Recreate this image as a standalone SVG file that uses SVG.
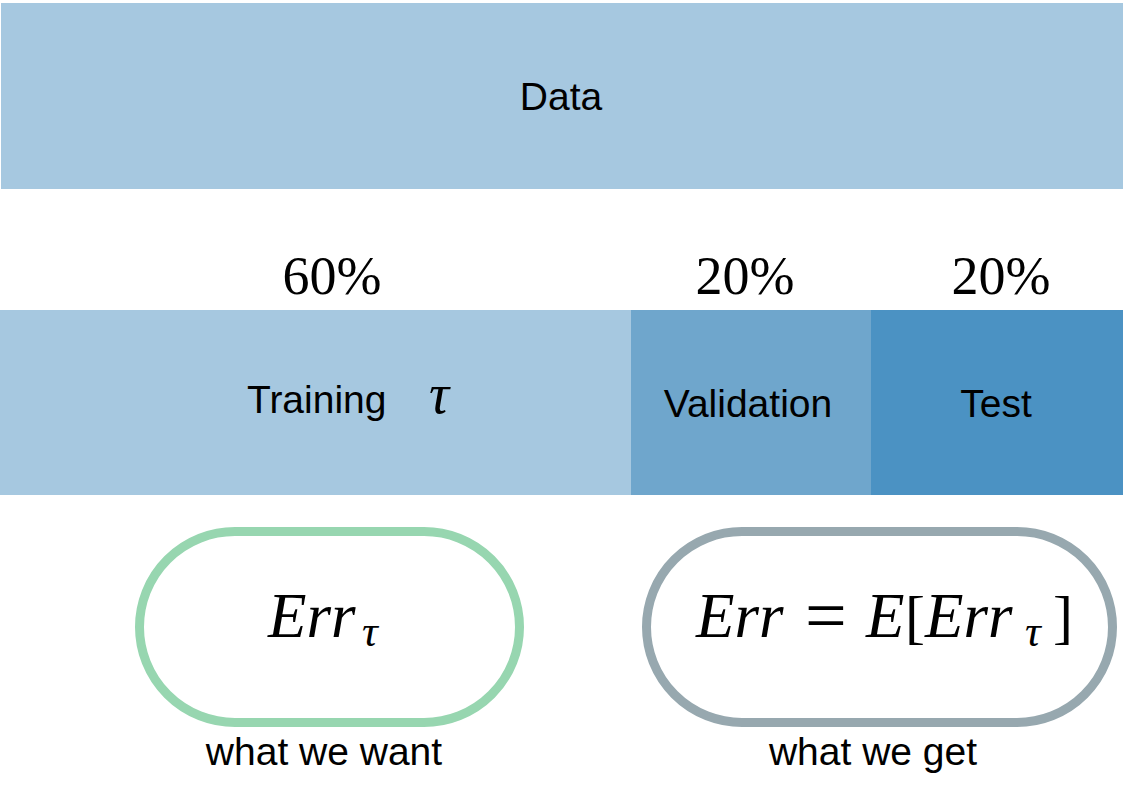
<svg xmlns="http://www.w3.org/2000/svg" width="1123" height="794" viewBox="0 0 1123 794">
<style>
.sans{font-family:"Liberation Sans",Arial,sans-serif;fill:#000}
.math{font-family:"Liberation Serif","Times New Roman",serif;fill:#000}
.it{font-style:italic}
.pill{fill:#fff;stroke-width:9}
</style>
<rect width="1123" height="794" fill="#fff"/>
<g id="data">
<rect x="1" y="3" width="1122" height="186" fill="#a6c8e0"/>
<text class="sans" x="561" y="110" font-size="39" text-anchor="middle">Data</text>
</g>
<g id="percent">
<text class="math" x="332" y="294" font-size="54" text-anchor="middle">60%</text>
<text class="math" x="745" y="294" font-size="54" text-anchor="middle">20%</text>
<text class="math" x="1001" y="294" font-size="54" text-anchor="middle">20%</text>
</g>
<g id="training">
<rect x="0" y="310" width="631" height="185" fill="#a6c8e0"/>
<text class="sans" x="247" y="413" font-size="39">Training</text>
<text class="math it" x="429" y="413" font-size="56">τ</text>
</g>
<g id="validation">
<rect x="631" y="310" width="240" height="185" fill="#6fa6cc"/>
<text class="sans" x="748" y="417" font-size="39" text-anchor="middle">Validation</text>
</g>
<g id="test">
<rect x="871" y="310" width="252" height="185" fill="#4b92c3"/>
<text class="sans" x="996" y="417" font-size="39" text-anchor="middle">Test</text>
</g>
<g id="want">
<rect class="pill" x="139.5" y="531.5" width="380" height="191" rx="95.5" stroke="#97d6b0"/>
<text class="math it" x="268" y="637" font-size="63">Err</text>
<text class="math it" x="362" y="646" font-size="44">τ</text>
<text class="sans" x="324" y="765" font-size="39" text-anchor="middle">what we want</text>
</g>
<g id="get">
<rect class="pill" x="646.5" y="531.5" width="466" height="191" rx="95.5" stroke="#97a8af"/>
<text class="math it" x="696" y="637" font-size="63">Err</text>
<text class="math" x="805" y="640" font-size="74">=</text>
<text class="math it" x="866" y="637" font-size="63">E</text>
<text class="math" x="905" y="637" font-size="60">[</text>
<text class="math it" x="925" y="637" font-size="63">Err</text>
<text class="math it" x="1025" y="646" font-size="44">τ</text>
<text class="math" x="1053" y="637" font-size="60">]</text>
<text class="sans" x="873" y="765" font-size="39" text-anchor="middle">what we get</text>
</g>
</svg>
